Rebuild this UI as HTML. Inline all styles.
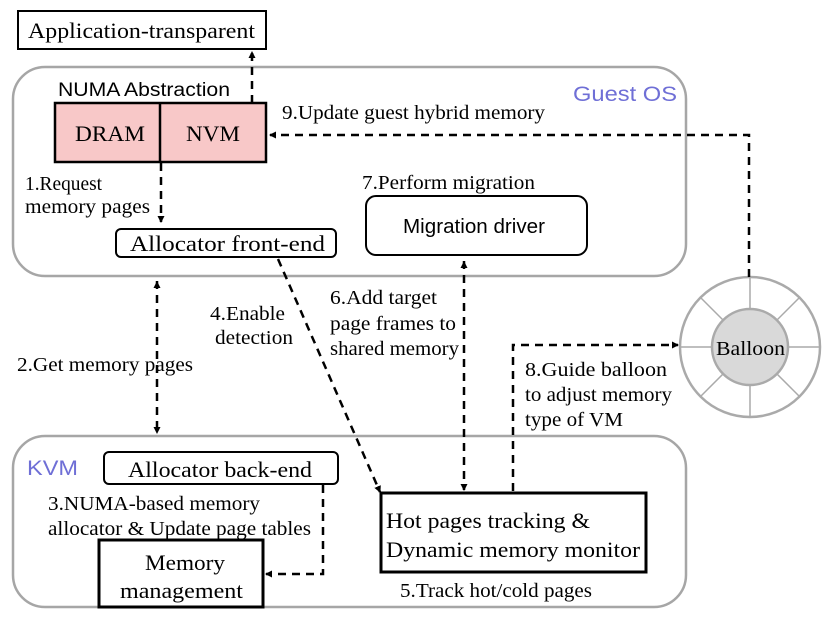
<!DOCTYPE html>
<html><head><meta charset="utf-8"><style>
html,body{margin:0;padding:0;background:#fff;}
svg{display:block;}
.s{font-family:"Liberation Serif",serif;fill:#000;}
.a{font-family:"Liberation Sans",sans-serif;}
</style></head><body>
<svg width="830" height="627" viewBox="0 0 830 627" xmlns="http://www.w3.org/2000/svg">
<defs>
<marker id="ah" markerWidth="8" markerHeight="8" refX="6" refY="4" orient="auto" markerUnits="userSpaceOnUse">
<path d="M0,0.5 L7,4 L0,7.5 z" fill="#000"/></marker>
<marker id="as" markerWidth="8" markerHeight="8" refX="1" refY="4" orient="auto" markerUnits="userSpaceOnUse">
<path d="M8,0.5 L1,4 L8,7.5 z" fill="#000"/></marker>
</defs>
<rect x="13" y="67" width="673" height="209" rx="32" fill="none" stroke="#a6a6a6" stroke-width="2.5"/>
<rect x="13" y="436" width="673" height="171" rx="32" fill="none" stroke="#a6a6a6" stroke-width="2.5"/>
<text x="573" y="101" class="a" font-size="21" fill="#6f6fd6" textLength="104" lengthAdjust="spacingAndGlyphs">Guest OS</text>
<text x="27" y="475" class="a" font-size="21" fill="#6f6fd6" textLength="51" lengthAdjust="spacingAndGlyphs">KVM</text>

<rect x="18" y="11" width="248" height="38" fill="#fff" stroke="#000" stroke-width="2"/>
<text x="28" y="38" class="s" font-size="22" textLength="227" lengthAdjust="spacingAndGlyphs">Application-transparent</text>

<text x="58" y="96" class="a" font-size="19" textLength="172" lengthAdjust="spacingAndGlyphs">NUMA Abstraction</text>
<rect x="55" y="103" width="211" height="59" fill="#f8c8c8" stroke="#000" stroke-width="2.5"/>
<line x1="160" y1="103" x2="160" y2="162" stroke="#000" stroke-width="2.5"/>
<text x="75" y="141" class="s" font-size="22" textLength="70" lengthAdjust="spacingAndGlyphs">DRAM</text>
<text x="186" y="141" class="s" font-size="22" textLength="54" lengthAdjust="spacingAndGlyphs">NVM</text>

<rect x="116" y="229" width="220" height="28" rx="5" fill="#fff" stroke="#000" stroke-width="2"/>
<text x="130" y="251" class="s" font-size="22" textLength="195" lengthAdjust="spacingAndGlyphs">Allocator front-end</text>

<rect x="366" y="196" width="221" height="59" rx="10" fill="#fff" stroke="#000" stroke-width="2"/>
<text x="403" y="233" class="a" font-size="20" textLength="142" lengthAdjust="spacingAndGlyphs">Migration driver</text>
<text x="362" y="189" class="s" font-size="20" textLength="173" lengthAdjust="spacingAndGlyphs">7.Perform migration</text>

<circle cx="750" cy="347" r="70" fill="#fff" stroke="#aaa" stroke-width="2.5"/>
<g stroke="#aaa" stroke-width="1.5">
<line x1="750" y1="277" x2="750" y2="417"/>
<line x1="680" y1="347" x2="820" y2="347"/>
<line x1="700" y1="297" x2="800" y2="397"/>
<line x1="800" y1="297" x2="700" y2="397"/>
</g>
<circle cx="750" cy="347" r="38" fill="#d9d9d9" stroke="#aaa" stroke-width="2.5"/>
<text x="716" y="355" class="s" font-size="20" textLength="69" lengthAdjust="spacingAndGlyphs">Balloon</text>

<rect x="104" y="452" width="234" height="32" rx="5" fill="#fff" stroke="#000" stroke-width="2"/>
<text x="128" y="477" class="s" font-size="22" textLength="184" lengthAdjust="spacingAndGlyphs">Allocator back-end</text>

<rect x="99" y="540" width="164" height="67" fill="#fff" stroke="#000" stroke-width="3"/>
<text x="145" y="570" class="s" font-size="22" textLength="80" lengthAdjust="spacingAndGlyphs">Memory</text>
<text x="120" y="598" class="s" font-size="22" textLength="123" lengthAdjust="spacingAndGlyphs">management</text>

<rect x="381" y="493" width="265" height="79" fill="#fff" stroke="#000" stroke-width="3"/>
<text x="386" y="528" class="s" font-size="22" textLength="204" lengthAdjust="spacingAndGlyphs">Hot pages tracking &amp;</text>
<text x="386" y="557" class="s" font-size="22" textLength="254" lengthAdjust="spacingAndGlyphs">Dynamic memory monitor</text>
<text x="400" y="597" class="s" font-size="20" textLength="192" lengthAdjust="spacingAndGlyphs">5.Track hot/cold pages</text>

<g stroke="#000" stroke-width="2.5" fill="none" stroke-dasharray="8,6">
<line x1="252" y1="103" x2="252" y2="52" marker-end="url(#ah)"/>
<polyline points="749,277 749,135 270,135" marker-end="url(#ah)"/>
<line x1="161" y1="163" x2="161" y2="222" marker-end="url(#ah)"/>
<line x1="157" y1="281" x2="157" y2="433" marker-start="url(#as)" marker-end="url(#ah)"/>
<line x1="278" y1="259" x2="380" y2="492" marker-end="url(#ah)"/>
<line x1="464" y1="261" x2="464" y2="490" marker-start="url(#as)" marker-end="url(#ah)"/>
<polyline points="513,491 513,345 678,345" marker-end="url(#ah)"/>
<polyline points="323,485 323,574 266,574" marker-end="url(#ah)"/>
</g>

<text x="25" y="190" class="s" font-size="20" textLength="77" lengthAdjust="spacingAndGlyphs">1.Request</text>
<text x="25" y="213" class="s" font-size="20" textLength="125" lengthAdjust="spacingAndGlyphs">memory pages</text>
<text x="282" y="119" class="s" font-size="20" textLength="263" lengthAdjust="spacingAndGlyphs">9.Update guest hybrid memory</text>
<text x="17" y="371" class="s" font-size="20" textLength="176" lengthAdjust="spacingAndGlyphs">2.Get memory pages</text>
<text x="210" y="320" class="s" font-size="20" textLength="75" lengthAdjust="spacingAndGlyphs">4.Enable</text>
<text x="215" y="344" class="s" font-size="20" textLength="78" lengthAdjust="spacingAndGlyphs">detection</text>
<text x="330" y="304" class="s" font-size="20" textLength="107" lengthAdjust="spacingAndGlyphs">6.Add target</text>
<text x="330" y="330" class="s" font-size="20" textLength="126" lengthAdjust="spacingAndGlyphs">page frames to</text>
<text x="330" y="355" class="s" font-size="20" textLength="129" lengthAdjust="spacingAndGlyphs">shared memory</text>
<text x="525" y="376" class="s" font-size="20" textLength="142" lengthAdjust="spacingAndGlyphs">8.Guide balloon</text>
<text x="525" y="401" class="s" font-size="20" textLength="147" lengthAdjust="spacingAndGlyphs">to adjust memory</text>
<text x="525" y="426" class="s" font-size="20" textLength="98" lengthAdjust="spacingAndGlyphs">type of VM</text>
<text x="48" y="510" class="s" font-size="20" textLength="212" lengthAdjust="spacingAndGlyphs">3.NUMA-based memory</text>
<text x="48" y="535" class="s" font-size="20" textLength="263" lengthAdjust="spacingAndGlyphs">allocator &amp; Update page tables</text>
</svg>
</body></html>
